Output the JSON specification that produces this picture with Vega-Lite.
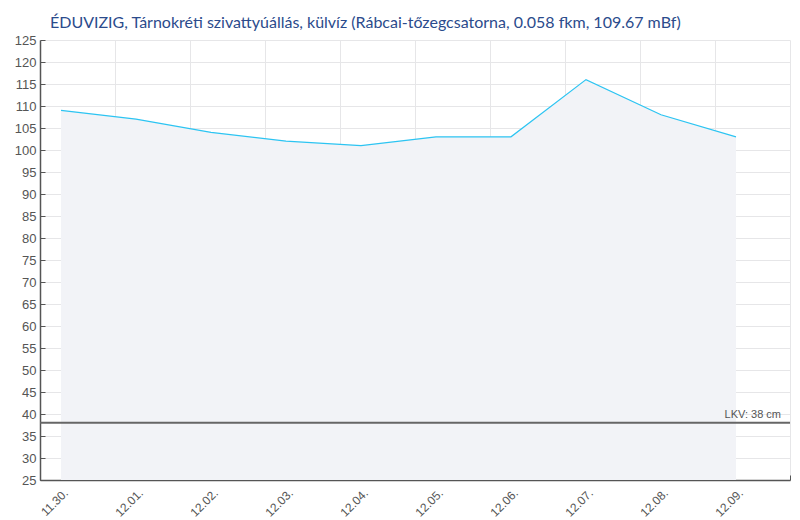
{
  "$schema": "https://vega.github.io/schema/vega-lite/v6.json",
  "width": 750,
  "height": 440,
  "autosize": "none",
  "padding": {"left": 40, "top": 40, "right": 10, "bottom": 40},
  "background": "white",
  "title": {
    "text": "ÉDUVIZIG, Tárnokréti szivattyúállás, külvíz (Rábcai-tőzegcsatorna, 0.058 fkm, 109.67 mBf)",
    "anchor": "start",
    "frame": "group",
    "dx": 10,
    "offset": -10,
    "baseline": "alphabetic",
    "font": "Lato",
    "fontSize": 16,
    "fontWeight": "normal",
    "color": "#2b4b8c"
  },
  "config": {
    "view": {"stroke": null},
    "axis": {
      "labelFont": "Liberation Sans",
      "labelColor": "#555555",
      "gridColor": "#e6e6e8",
      "gridWidth": 1,
      "domainColor": "#555555",
      "tickColor": "#555555",
      "title": null
    }
  },
  "datasets": {
    "levels": [
      {"date": "2024-11-30T06:43:00", "value": 109},
      {"date": "2024-12-01T06:43:00", "value": 107},
      {"date": "2024-12-02T06:43:00", "value": 104},
      {"date": "2024-12-03T06:43:00", "value": 102},
      {"date": "2024-12-04T06:43:00", "value": 101},
      {"date": "2024-12-05T06:43:00", "value": 103},
      {"date": "2024-12-06T06:43:00", "value": 103},
      {"date": "2024-12-07T06:43:00", "value": 116},
      {"date": "2024-12-08T06:43:00", "value": 108},
      {"date": "2024-12-09T06:43:00", "value": 103}
    ],
    "lkv": [
      {"date": "2024-12-10T00:00:00", "value": 38, "label": "LKV: 38 cm"}
    ]
  },
  "encoding": {
    "x": {
      "field": "date",
      "type": "temporal",
      "scale": {"domain": [{"year": 2024, "month": 11, "date": 30}, {"year": 2024, "month": 12, "date": 10}]},
      "axis": {
        "values": [
          {"year": 2024, "month": 11, "date": 30},
          {"year": 2024, "month": 12, "date": 1},
          {"year": 2024, "month": 12, "date": 2},
          {"year": 2024, "month": 12, "date": 3},
          {"year": 2024, "month": 12, "date": 4},
          {"year": 2024, "month": 12, "date": 5},
          {"year": 2024, "month": 12, "date": 6},
          {"year": 2024, "month": 12, "date": 7},
          {"year": 2024, "month": 12, "date": 8},
          {"year": 2024, "month": 12, "date": 9},
          {"year": 2024, "month": 12, "date": 10}
        ],
        "format": "%m.%d.",
        "labelExpr": "month(datum.value) == 11 && date(datum.value) == 10 ? '' : datum.label",
        "labelAngle": -45,
        "labelAlign": "right",
        "labelBaseline": "top",
        "labelFontSize": 12,
        "labelPadding": 12,
        "labelOffset": 22,
        "tickSize": -5,
        "domainWidth": 1.5,
        "grid": true
      }
    },
    "y": {
      "field": "value",
      "type": "quantitative",
      "scale": {"domain": [25, 125], "zero": false, "nice": false},
      "axis": {
        "values": [25,30,35,40,45,50,55,60,65,70,75,80,85,90,95,100,105,110,115,120,125],
        "labelFontSize": 13,
        "labelPadding": 9,
        "tickSize": -5,
        "domainWidth": 1.5,
        "grid": true
      }
    }
  },
  "layer": [
    {
      "data": {"name": "levels"},
      "mark": {"type": "area", "color": "#f2f3f7", "opacity": 1},
      "encoding": {"y2": {"datum": 25}}
    },
    {
      "data": {"name": "levels"},
      "mark": {"type": "line", "color": "#2cc4f2", "strokeWidth": 1.2}
    },
    {
      "data": {"name": "lkv"},
      "mark": {"type": "rule", "color": "#666666", "strokeWidth": 2},
      "encoding": {"x": null, "y": {"field": "value", "type": "quantitative"}}
    },
    {
      "data": {"name": "lkv"},
      "mark": {"type": "text", "align": "right", "baseline": "alphabetic", "dx": -9, "dy": -5, "font": "Liberation Sans", "fontSize": 11, "color": "#555555"},
      "encoding": {"text": {"field": "label"}}
    }
  ]
}
